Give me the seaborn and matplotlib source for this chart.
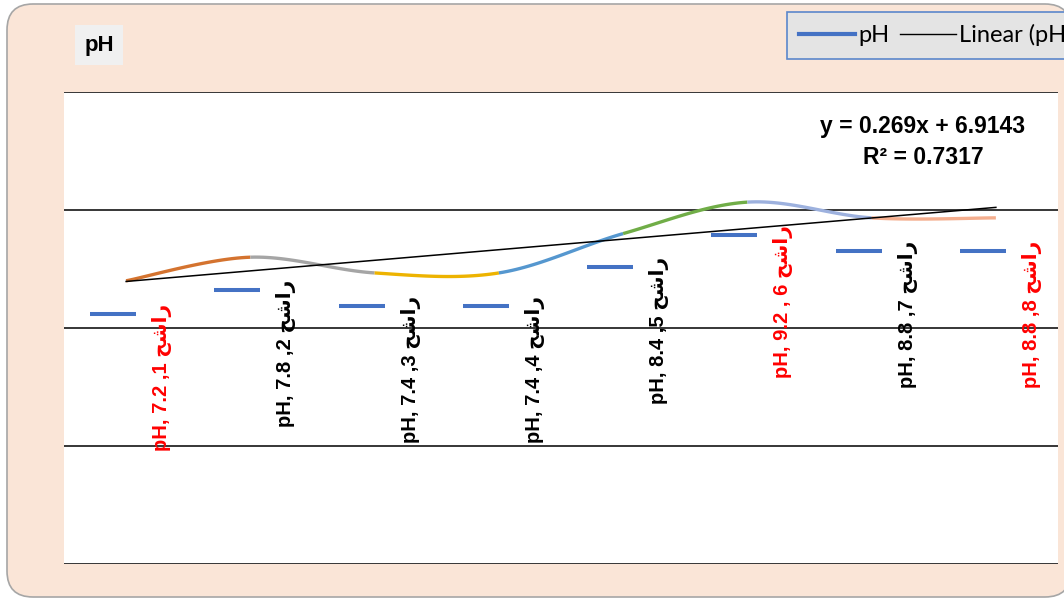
import numpy as np
import pandas as pd
import matplotlib.pyplot as plt
import seaborn as sns
from matplotlib.patches import FancyBboxPatch, Rectangle
from matplotlib.lines import Line2D
from matplotlib.transforms import ScaledTranslation

# data
SAMPLES = [1, 2, 3, 4, 5, 6, 7, 8]
PH = [7.2, 7.8, 7.4, 7.4, 8.4, 9.2, 8.8, 8.8]
AR = "\ufea2\ufeb7\ufe8d\ufead"   # راشح, shaped glyphs in display order
LABELS = [
    f"pH, 7.2 ,1 {AR}", f"pH, 7.8 ,2 {AR}", f"pH, 7.4 ,3 {AR}", f"pH, 7.4 ,4 {AR}",
    f"pH, 8.4 ,5 {AR}", f"pH, 9.2 , 6 {AR}", f"pH, 8.8 ,7 {AR}", f"pH, 8.8 ,8 {AR}",
]
LABEL_COLOURS = ["#FF0000", "black", "black", "black", "black", "#FF0000", "black", "#FF0000"]
SEG_COLOURS = ["#D4732F", "#A5A5A5", "#EDB300", "#5597CF", "#70AD47", "#9DB1DE", "#F4AE8E"]
Y_TICKS = [0, 3, 6, 9, 12]

W, H, DPI = 1064, 599, 100
fig = plt.figure(figsize=(W / DPI, H / DPI), dpi=DPI, facecolor="white")

# chart area background (rounded)
bg = fig.add_axes([0, 0, 1, 1], zorder=-1)
bg.set_xlim(0, W); bg.set_ylim(H, 0); bg.axis("off")
bg.add_patch(FancyBboxPatch((7, 4), 1064, 593, boxstyle="round,pad=0,rounding_size=26",
                            fc="#FAE5D7", ec="#A6A6A6", lw=1.2))
bg.add_patch(Rectangle((75, 25), 48, 40, fc="#F0F0F0", ec="none"))
bg.text(99, 46, "pH", ha="center", va="center", fontsize=16, fontweight="bold",
        family="Liberation Sans")

# plot area
ax = fig.add_axes([64 / W, 1 - 564 / H, (1058 - 64) / W, (564 - 92) / H])
ax.set_facecolor("white")
ax.set_xlim(0.5, 8.5); ax.set_ylim(0, 12)

# smoothed line (Excel style bezier), coloured by point
pts = np.column_stack([SAMPLES, PH]).astype(float)
pad = np.vstack([pts[0], pts, pts[-1]])
t = np.linspace(0, 1, 30)[:, None]
parts = []
for i in range(len(SAMPLES) - 1):
    p0, p1, p2, p3 = pad[i], pad[i + 1], pad[i + 2], pad[i + 3]
    c1 = p1 + (p2 - p0) / 6
    c2 = p2 - (p3 - p1) / 6
    b = (1 - t) ** 3 * p1 + 3 * (1 - t) ** 2 * t * c1 + 3 * (1 - t) * t ** 2 * c2 + t ** 3 * p2
    parts.append(pd.DataFrame({"x": b[:, 0], "y": b[:, 1], "seg": f"s{i}"}))
curve = pd.concat(parts, ignore_index=True)
sns.lineplot(data=curve, x="x", y="y", hue="seg", palette=SEG_COLOURS, sort=False,
             estimator=None, lw=2.4, legend=False, ax=ax, solid_capstyle="butt")

# linear trendline
sns.regplot(x=SAMPLES, y=PH, scatter=False, ci=None, truncate=True, ax=ax,
            line_kws=dict(color="black", lw=1.1))

# dash markers (drawn shifted, as in the original)
shift = ax.transData + ScaledTranslation(-13 / DPI, -33 / DPI, fig.dpi_scale_trans)
sns.scatterplot(x=SAMPLES, y=PH, marker="_", s=1050, linewidth=2.9, color="#4472C4",
                ax=ax, transform=shift, zorder=4)

# data labels
lab_tr = ax.transData + ScaledTranslation(36 / DPI, -23 / DPI, fig.dpi_scale_trans)
for xs, v, lab, col in zip(SAMPLES, PH, LABELS, LABEL_COLOURS):
    ax.text(xs, v, lab, rotation=90, ha="center", va="top", color=col, fontsize=14.5,
            fontweight="bold", family=["Liberation Sans", "DejaVu Sans"], transform=lab_tr)

ax.set_yticks(Y_TICKS)
ax.set_xticks([])
ax.yaxis.grid(True, color="black", lw=1.1)
ax.tick_params(left=False, labelleft=False)
ax.set_xlabel(""); ax.set_ylabel("")
for s in ax.spines.values():
    s.set_visible(False)

# trendline equation
fit = np.polyfit(SAMPLES, PH, 1)
r2 = np.corrcoef(SAMPLES, PH)[0, 1] ** 2
fig.text(923 / W, 1 - 127 / H, f"y = {fit[0]:.3f}x + {fit[1]:.4f}", ha="center", va="center",
         fontsize=16.5, fontweight="bold", family="Liberation Sans")
fig.text(923 / W, 1 - 157 / H, f"R\u00b2 = {r2:.4f}", ha="center", va="center",
         fontsize=16.5, fontweight="bold", family="Liberation Sans")

# legend (runs off the right edge like the source)
handles = [Line2D([], [], color="#4472C4", lw=3), Line2D([], [], color="black", lw=1)]
leg = fig.legend(handles, ["pH", "Linear (pH)"], loc="upper left", ncol=2,
                 bbox_to_anchor=(787 / W, 1 - 12 / H), borderaxespad=0,
                 handlelength=2.35, handletextpad=0.15, columnspacing=0.45, borderpad=0.52,
                 fancybox=False, framealpha=1, prop=dict(family="Lato", size=17))
leg.get_frame().set_facecolor("#E4E4E4")
leg.get_frame().set_edgecolor("#5B87CB")
leg.get_frame().set_linewidth(1.2)

plt.savefig("out.png", dpi=DPI)
